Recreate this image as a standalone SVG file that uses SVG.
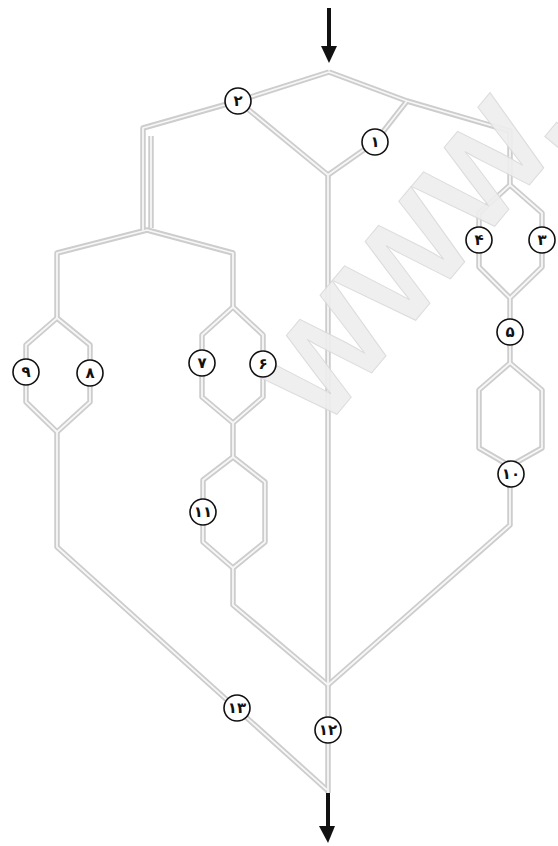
<svg xmlns="http://www.w3.org/2000/svg" xmlns:xlink="http://www.w3.org/1999/xlink" width="558" height="846" viewBox="0 0 558 846">
<style>
.po{fill:none;stroke:#cdcdcd;stroke-width:5.5;stroke-linejoin:round;stroke-linecap:butt}
.pi{fill:none;stroke:#f7f7f7;stroke-width:1.8;stroke-linejoin:round;stroke-linecap:butt}
.nc{fill:#fff;stroke:#111;stroke-width:1.6}
.nt{font-family:"DejaVu Sans",sans-serif;font-weight:bold;font-size:15px;fill:#111;text-anchor:middle}
.arr{fill:#111}
.wm{font-family:"Liberation Sans",sans-serif;font-weight:bold;font-size:130px;fill:#eeeeee;stroke:#dadada;stroke-width:1;opacity:0.92}
</style>
<defs>
<g id="pipes">
<path d="M329,72 L238,101 L143,128 L143,230"/>
<path d="M151,136 L151,228"/>
<path d="M57,318 L57,253 L147,230 L233,253 L233,307"/>
<path d="M329,72 L407,101 L510,131 L510,185"/>
<path d="M407,101 L375,142 L328,175"/>
<path d="M238,101 L328,175"/>
<path d="M328,175 L328,793"/>
<path d="M510,185 L479,213 L479,267 L510,298 L542,267 L542,213 Z"/>
<path d="M510,298 L510,363"/>
<path d="M510,363 L479,390 L479,448 L510,466 L542,448 L542,390 Z"/>
<path d="M510,466 L510,525 L328,685"/>
<path d="M233,307 L202,335 L202,397 L233,423 L263,397 L263,335 Z"/>
<path d="M233,423 L233,457"/>
<path d="M233,457 L203,480 L203,542 L233,568 L265,542 L265,482 Z"/>
<path d="M233,568 L233,605 L328,685"/>
<path d="M57,318 L26,345 L26,402 L57,432 L90,402 L90,345 Z"/>
<path d="M57,432 L57,547 L327,790"/>
</g>
</defs>
<g id="connectors">
<use xlink:href="#pipes" href="#pipes" class="po"/>
<use xlink:href="#pipes" href="#pipes" class="pi"/>
<g id="arrow-in"><rect class="arr" x="327" y="8" width="4" height="40"/><polygon class="arr" points="321,46 337,46 329,63"/></g>
<g id="arrow-out"><rect class="arr" x="326" y="793" width="4" height="35"/><polygon class="arr" points="319,826 335,826 328,843"/></g>
</g>
<text class="wm" transform="translate(322,432) rotate(-50)">WWW.</text>
<g id="n1"><circle class="nc" cx="375" cy="142" r="13"/><text class="nt" x="375" y="147">۱</text></g>
<g id="n2"><circle class="nc" cx="238" cy="101" r="13"/><text class="nt" x="238" y="106">۲</text></g>
<g id="n3"><circle class="nc" cx="542" cy="240" r="13"/><text class="nt" x="542" y="245">۳</text></g>
<g id="n4"><circle class="nc" cx="479" cy="240" r="13"/><text class="nt" x="479" y="245">۴</text></g>
<g id="n5"><circle class="nc" cx="510" cy="332" r="13"/><text class="nt" x="510" y="337">۵</text></g>
<g id="n6"><circle class="nc" cx="263" cy="364" r="13"/><text class="nt" x="263" y="369">۶</text></g>
<g id="n7"><circle class="nc" cx="202" cy="363" r="13"/><text class="nt" x="202" y="368">۷</text></g>
<g id="n8"><circle class="nc" cx="90" cy="373" r="13"/><text class="nt" x="90" y="378">۸</text></g>
<g id="n9"><circle class="nc" cx="26" cy="372" r="13"/><text class="nt" x="26" y="377">۹</text></g>
<g id="n10"><circle class="nc" cx="511" cy="474" r="13"/><text class="nt" x="511" y="479">۱۰</text></g>
<g id="n11"><circle class="nc" cx="203" cy="512" r="13"/><text class="nt" x="203" y="517">۱۱</text></g>
<g id="n12"><circle class="nc" cx="328" cy="730" r="13"/><text class="nt" x="328" y="735">۱۲</text></g>
<g id="n13"><circle class="nc" cx="237" cy="708" r="13"/><text class="nt" x="237" y="713">۱۳</text></g>
</svg>
